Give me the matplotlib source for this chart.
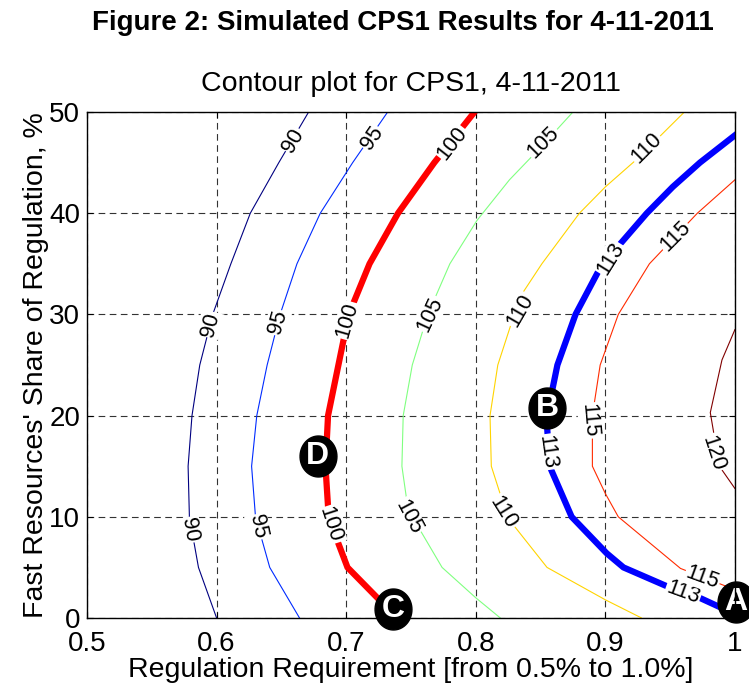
import matplotlib
matplotlib.use("Agg")
import matplotlib.pyplot as plt
from matplotlib.path import Path
import numpy as np

plt.rcParams['font.family'] = ['Liberation Sans', 'DejaVu Sans']

# contour lines (x = regulation requirement, y = fast share %)
x90 = [0.600, 0.586, 0.579, 0.578, 0.581, 0.587, 0.597, 0.611, 0.626, 0.648, 0.671]
y90 = [0, 5, 10, 15, 20, 25, 30, 35, 40, 45, 50]

x95 = [0.664, 0.641, 0.630, 0.627, 0.631, 0.639, 0.649, 0.662, 0.680, 0.705, 0.732]
y95 = [0, 5, 10, 15, 20, 25, 30, 35, 40, 45, 50]

x100 = [0.738, 0.724, 0.701, 0.693, 0.686, 0.684, 0.686, 0.694, 0.702, 0.718, 0.740, 0.768, 0.799]
y100 = [0, 2, 5, 7.7, 11, 15, 20, 25, 30, 35, 40, 45, 50]

x105 = [0.819, 0.800, 0.774, 0.757, 0.747, 0.743, 0.744, 0.751, 0.763, 0.780, 0.801, 0.826, 0.850, 0.875]
y105 = [0, 2, 5, 8.7, 11.4, 15, 20, 25, 30, 35, 39.3, 43.3, 46.5, 50]

x110 = [0.928, 0.900, 0.855, 0.829, 0.819, 0.812, 0.811, 0.817, 0.834, 0.851, 0.880, 0.900, 0.924, 0.961]
y110 = [0, 1.8, 5, 9.2, 12.2, 15, 20, 25, 31.7, 35, 40, 42.6, 45.3, 50]

x113 = [1.0, 0.988, 0.971, 0.950, 0.914, 0.901, 0.874, 0.857, 0.855, 0.859, 0.863, 0.877, 0.896, 0.909, 0.932, 0.952, 0.973, 1.0]
y113 = [0.5, 1.1, 2.1, 3.0, 5, 6.4, 10, 15, 19, 22.5, 25, 30, 34.6, 36.6, 40, 42.6, 45, 47.7]

x115 = [1.0, 0.988, 0.958, 0.910, 0.900, 0.890, 0.890, 0.896, 0.910, 0.934, 0.971, 1.0]
y115 = [2.8, 3.4, 4.9, 10, 12.3, 15, 20, 25, 30, 35, 40, 43.3]

x120 = [1.0, 0.988, 0.981, 0.990, 1.0]
y120 = [12.8, 15, 20.3, 25.5, 28.5]

# inline contour labels
lab_text = ['90', '90', '90', '95', '95', '95', '100', '100', '100',
            '105', '105', '105', '110', '110', '110', '113', '113', '113',
            '115', '115', '115', '120']
lab_x = [0.659, 0.595, 0.579, 0.720, 0.647, 0.632, 0.782, 0.701, 0.688,
         0.852, 0.765, 0.748, 0.932, 0.834, 0.821, 0.904, 0.855, 0.960,
         0.954, 0.888, 0.975, 0.983]
lab_y = [47.2, 29.0, 8.7, 47.4, 29.2, 9.0, 46.9, 29.4, 9.2,
         47.0, 30.0, 10.0, 46.4, 30.4, 10.4, 35.5, 16.4, 2.5,
         37.7, 19.5, 4.0, 16.3]
lab_rot = [60, 76, -80, 55, 74, -78, 52, 74, -72,
           45, 65, -62, 45, 60, -58, 58, -82, -20,
           45, -85, -20, -72]

# lettered operating points
pt_names = ['A', 'B', 'C', 'D']
pt_x = [1.001, 0.855, 0.736, 0.678]
pt_y = [1.6, 20.75, 0.9, 16.0]

lines = [(x90, y90, '#000080', 0.8), (x95, y95, '#002BFF', 0.8),
         (x100, y100, '#FF0000', 4.5), (x105, y105, '#80FF80', 0.8),
         (x110, y110, '#FFD400', 0.8), (x113, y113, '#0000FF', 4.5),
         (x115, y115, '#FF2B00', 0.8), (x120, y120, '#800000', 0.8)]

fig = plt.figure(figsize=(7.49, 6.86), dpi=100)
ax = fig.add_axes([0.1162, 0.0991, 0.865, 0.7376])

for xs, ys, c, lw in lines:
    ax.plot(xs, ys, color=c, lw=lw, zorder=3, solid_joinstyle='miter')

for t, x, y, r in zip(lab_text, lab_x, lab_y, lab_rot):
    ax.text(x, y, t, rotation=r, rotation_mode='anchor', ha='center', va='center',
            fontsize=15.5, color='black', zorder=4,
            bbox=dict(boxstyle='square,pad=0.05', fc='white', ec='none'))

th = np.linspace(0, 2 * np.pi, 60)
ellipse = Path(np.column_stack([0.9 * np.cos(th), np.sin(th)]), closed=True)
ax.plot(pt_x, pt_y, ls='none', marker=ellipse, markersize=29.5, color='black',
        zorder=5, clip_on=False)
for n, x, y in zip(pt_names, pt_x, pt_y):
    ax.text(x, y, n, ha='center', va='center', color='white', fontsize=23,
            fontweight='bold', family=['Liberation Sans Narrow', 'Liberation Sans'],
            zorder=6, clip_on=False)

ax.set_xlim(0.5, 1.0)
ax.set_ylim(0, 50)
ax.set_xticks([0.5, 0.6, 0.7, 0.8, 0.9, 1.0])
ax.set_xticklabels(['0.5', '0.6', '0.7', '0.8', '0.9', '1'])
ax.set_yticks([0, 10, 20, 30, 40, 50])
ax.tick_params(direction='in', length=4, width=0.8, labelsize=20, top=True, right=True)
ax.tick_params(axis='x', pad=9)
ax.tick_params(axis='y', pad=5)
ax.grid(True, color='#333333', ls=(0, (6, 4)), lw=0.8)
for s in ax.spines.values():
    s.set_linewidth(1.0)
    s.set_zorder(7)

ax.set_xlabel('Regulation Requirement [from 0.5% to 1.0%]', fontsize=20.5, labelpad=0)
ax.set_ylabel("Fast Resources' Share of Regulation, %", fontsize=20.5, labelpad=0)
ax.set_title('Contour plot for CPS1, 4-11-2011', fontsize=20.5, pad=15)
fig.text(0.538, 0.966, 'Figure 2: Simulated CPS1 Results for 4-11-2011',
         ha='center', va='center', fontsize=20, fontweight='bold')

fig.savefig('out.png', dpi=100)
